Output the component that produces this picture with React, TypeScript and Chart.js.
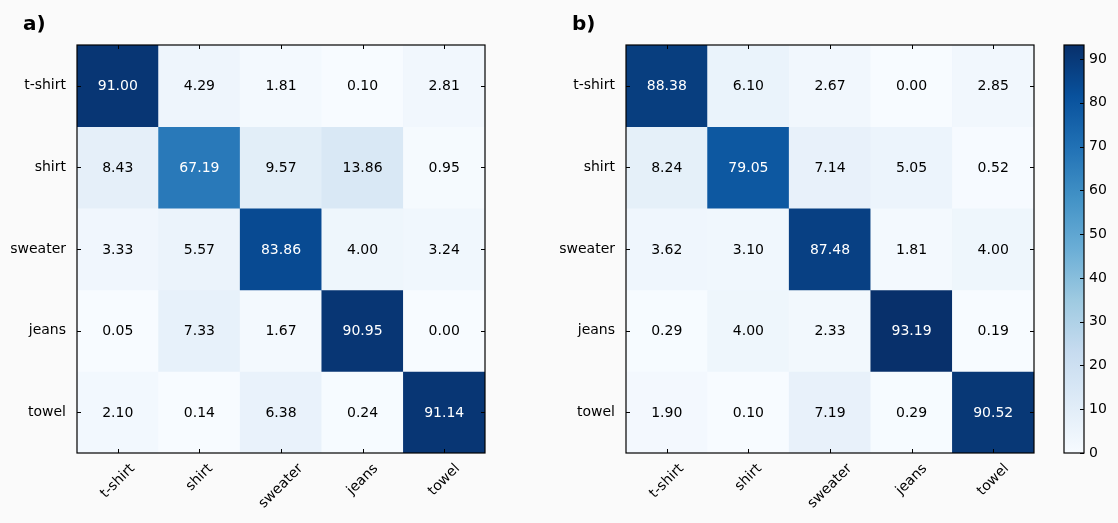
import React, { useEffect, useRef } from "react";
import { Chart, registerables } from "chart.js";
Chart.register(...registerables);

const categories = ["t-shirt", "shirt", "sweater", "jeans", "towel"];
const matrixA = [
  [91.0, 4.29, 1.81, 0.1, 2.81],
  [8.43, 67.19, 9.57, 13.86, 0.95],
  [3.33, 5.57, 83.86, 4.0, 3.24],
  [0.05, 7.33, 1.67, 90.95, 0.0],
  [2.1, 0.14, 6.38, 0.24, 91.14],
];
const matrixB = [
  [88.38, 6.1, 2.67, 0.0, 2.85],
  [8.24, 79.05, 7.14, 5.05, 0.52],
  [3.62, 3.1, 87.48, 1.81, 4.0],
  [0.29, 4.0, 2.33, 93.19, 0.19],
  [1.9, 0.1, 7.19, 0.29, 90.52],
];
const colorbarTicks = [0, 10, 20, 30, 40, 50, 60, 70, 80, 90];
const panelLabels = ["a)", "b)"];
const vmin = 0;
const vmax = 93.19;

const BLUES = [
  [247, 251, 255],
  [222, 235, 247],
  [198, 219, 239],
  [158, 202, 225],
  [107, 174, 214],
  [66, 146, 198],
  [33, 113, 181],
  [8, 81, 156],
  [8, 48, 107],
];
function blues(t: number): string {
  const c = Math.max(0, Math.min(1, t)) * (BLUES.length - 1);
  const i = Math.min(BLUES.length - 2, Math.floor(c));
  const f = c - i;
  const a = BLUES[i], b = BLUES[i + 1];
  const r = Math.round(a[0] + (b[0] - a[0]) * f);
  const g = Math.round(a[1] + (b[1] - a[1]) * f);
  const bl = Math.round(a[2] + (b[2] - a[2]) * f);
  return `rgb(${r},${g},${bl})`;
}

const FONT = "DejaVu Sans";

function heatmapConfig(matrix: number[][], letter: string, leftWidth: number, rightPad: number, letterX: number): any {
  const datasets = matrix.map((row, i) => ({
    label: categories[i],
    data: row.map(() => [i, i + 1]),
    backgroundColor: row.map((v) => blues((v - vmin) / (vmax - vmin))),
    borderWidth: 0,
    barPercentage: 1,
    categoryPercentage: 1,
  }));
  const plugin = {
    id: "heatText",
    afterDatasetsDraw(chart: any) {
      const ctx = chart.ctx;
      const xs = chart.scales.x;
      const ys = chart.scales.y;
      const ca = chart.chartArea;
      ctx.save();
      ctx.font = `14px "${FONT}"`;
      ctx.textAlign = "center";
      ctx.textBaseline = "middle";
      matrix.forEach((row, i) => {
        row.forEach((v, j) => {
          ctx.fillStyle = v > vmax / 2 ? "#ffffff" : "#000000";
          ctx.fillText(v.toFixed(2), xs.getPixelForValue(j), ys.getPixelForValue(i + 0.5) + 1);
        });
      });
      ctx.strokeStyle = "#000";
      ctx.lineWidth = 1.2;
      ctx.strokeRect(ca.left, ca.top, ca.right - ca.left, ca.bottom - ca.top);
      ctx.lineWidth = 1;
      ctx.beginPath();
      categories.forEach((_, j) => {
        const x = Math.round(xs.getPixelForValue(j)) + 0.5;
        ctx.moveTo(x, ca.top);
        ctx.lineTo(x, ca.top + 4);
        ctx.moveTo(x, ca.bottom);
        ctx.lineTo(x, ca.bottom - 4);
      });
      categories.forEach((_, i) => {
        const y = Math.round(ys.getPixelForValue(i + 0.5)) + 0.5;
        ctx.moveTo(ca.left, y);
        ctx.lineTo(ca.left + 4, y);
        ctx.moveTo(ca.right, y);
        ctx.lineTo(ca.right - 4, y);
      });
      ctx.stroke();
      ctx.fillStyle = "#000";
      ctx.font = `14px "${FONT}"`;
      categories.forEach((lab, j) => {
        const w = ctx.measureText(lab).width;
        const cx = xs.getPixelForValue(j);
        const cy = ca.bottom + 8.5 + (w + 14) * 0.3535;
        ctx.save();
        ctx.translate(cx, cy);
        ctx.rotate(-Math.PI / 4);
        ctx.textAlign = "center";
        ctx.textBaseline = "middle";
        ctx.fillText(lab, 0, 0);
        ctx.restore();
      });
      ctx.font = `bold 20px "${FONT}"`;
      ctx.textAlign = "left";
      ctx.textBaseline = "alphabetic";
      ctx.fillText(letter, letterX, 30);
      ctx.restore();
    },
  };
  return {
    type: "bar",
    data: { labels: categories, datasets },
    options: {
      animation: false,
      responsive: false,
      maintainAspectRatio: false,
      layout: { padding: { top: 45, right: rightPad, left: 0, bottom: 0 } },
      plugins: { legend: { display: false }, tooltip: { enabled: false } },
      scales: {
        x: {
          type: "category",
          stacked: true,
          offset: true,
          grid: { display: false, drawTicks: false },
          border: { display: false },
          ticks: { display: false },
          afterFit: (s: any) => {
            s.height = 70;
          },
        },
        y: {
          type: "linear",
          min: 0,
          max: categories.length,
          reverse: true,
          stacked: false,
          grid: { display: false, drawTicks: false },
          border: { display: false },
          ticks: {
            padding: 11,
            color: "#000",
            font: { family: FONT, size: 14 },
            callback: (v: any) => categories[Math.floor(Number(v))],
          },
          afterBuildTicks: (s: any) => {
            s.ticks = categories.map((_, i) => ({ value: i + 0.5 }));
          },
          afterFit: (s: any) => {
            s.width = leftWidth;
          },
        },
      },
    },
    plugins: [plugin],
  };
}

function colorbarConfig(): any {
  const plugin = {
    id: "cbFrame",
    afterDatasetsDraw(chart: any) {
      const ctx = chart.ctx;
      const ca = chart.chartArea;
      const ys = chart.scales.y;
      ctx.save();
      ctx.strokeStyle = "#000";
      ctx.lineWidth = 1.2;
      ctx.strokeRect(ca.left, ca.top, ca.right - ca.left, ca.bottom - ca.top);
      ctx.lineWidth = 1;
      ctx.beginPath();
      colorbarTicks.forEach((t) => {
        const y = Math.round(ys.getPixelForValue(t)) + 0.5;
        ctx.moveTo(ca.right, y);
        ctx.lineTo(ca.right - 4, y);
      });
      ctx.stroke();
      ctx.restore();
    },
  };
  return {
    type: "bar",
    data: {
      labels: [""],
      datasets: [
        {
          data: [[vmin, vmax]],
          borderWidth: 0,
          barPercentage: 1,
          categoryPercentage: 1,
          backgroundColor: (c: any) => {
            const ca = c.chart.chartArea;
            if (!ca) return "rgb(247,251,255)";
            const g = c.chart.ctx.createLinearGradient(0, ca.bottom, 0, ca.top);
            BLUES.forEach((b, i) => g.addColorStop(i / (BLUES.length - 1), `rgb(${b[0]},${b[1]},${b[2]})`));
            return g;
          },
        },
      ],
    },
    options: {
      animation: false,
      responsive: false,
      maintainAspectRatio: false,
      layout: { padding: { top: 45, bottom: 70, left: 14, right: 0 } },
      plugins: { legend: { display: false }, tooltip: { enabled: false } },
      scales: {
        x: { display: false, offset: true },
        y: {
          position: "right",
          min: vmin,
          max: vmax,
          grid: { display: false, drawTicks: false },
          border: { display: false },
          ticks: { padding: 5, color: "#000", font: { family: FONT, size: 14 } },
          afterBuildTicks: (s: any) => {
            s.ticks = colorbarTicks.map((v) => ({ value: v }));
          },
          afterFit: (s: any) => {
            s.width = 34;
          },
        },
      },
    },
    plugins: [plugin],
  };
}

function ChartCanvas({ config, left, width }: { config: () => any; left: number; width: number }) {
  const ref = useRef<HTMLCanvasElement | null>(null);
  useEffect(() => {
    if (!ref.current) return;
    const chart = new Chart(ref.current, config());
    return () => chart.destroy();
  }, []);
  return (
    <canvas
      ref={ref}
      width={width}
      height={523}
      style={{ position: "absolute", left, top: 0, width, height: 523 }}
    />
  );
}

export default function App() {
  return (
    <div
      style={{
        position: "fixed",
        left: 0,
        top: 0,
        width: 1118,
        height: 523,
        background: "#fafafa",
        overflow: "hidden",
      }}
    >
      <ChartCanvas config={() => heatmapConfig(matrixA, panelLabels[0], 77, 15, 23)} left={0} width={500} />
      <ChartCanvas config={() => heatmapConfig(matrixB, panelLabels[1], 106, 16, 52)} left={520} width={530} />
      <ChartCanvas config={colorbarConfig} left={1050} width={68} />
    </div>
  );
}
